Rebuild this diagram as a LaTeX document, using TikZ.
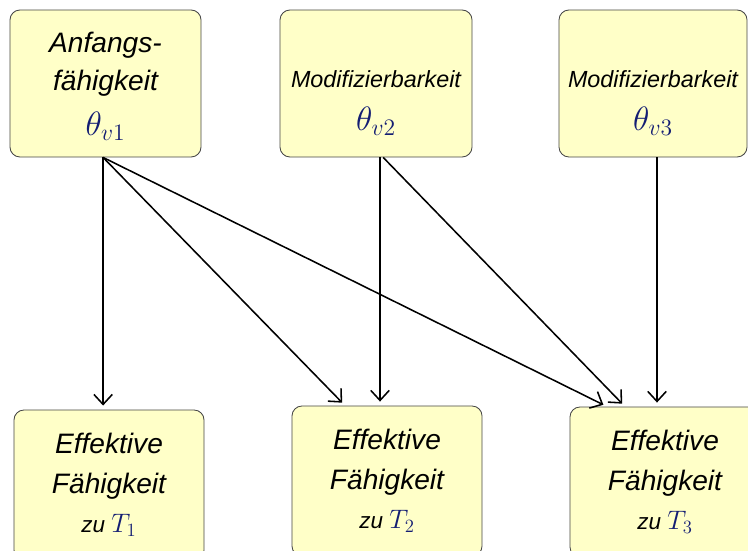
\RequirePackage{fix-cm}
\documentclass[tikz,border=0pt]{standalone}
\usepackage[no-math]{fontspec}
\setmainfont{Liberation Sans}
\usepackage{xcolor}
\usetikzlibrary{positioning,calc,arrows.meta}
\definecolor{BoxGelb}{RGB}{255,255,200}
\definecolor{BoxRand}{RGB}{70,70,70}
\definecolor{MathBlau}{RGB}{20,30,115}
\newcommand{\mblau}[1]{\textcolor{MathBlau}{$#1$}}
\tikzset{
    varbox/.style={rectangle, rounded corners=0.25cm, draw=BoxRand, fill=BoxGelb, line width=0.6pt, minimum width=4.775cm, minimum height=3.675cm, inner sep=0pt, align=center, font=\itshape\fontsize{20}{27}\selectfont},
    modbox/.style={varbox, font=\itshape\fontsize{16.6}{20}\selectfont},
    effbox/.style={varbox, minimum width=4.75cm, minimum height=3.75cm, font=\itshape\fontsize{20}{28}\selectfont}
}

\begin{document}
\begin{tikzpicture}[
        x=0.025cm, y=-0.025cm,
        % Style fuer die Pfeile
        pfeil/.style={
            draw=black,
            line width=1.1pt,
            -{Straight Barb[length=2.5mm, width=4.6mm]},
            shorten >=0.1cm
        }
    ]
        \useasboundingbox (0,0) rectangle (748,551);
        \clip (0,0) rectangle (748,551);

        % --- OBERE KNOTEN ---
        \node[varbox] (a1) at (105.5,83.5) {\rule{0pt}{18pt}Anfangs-\\ fähigkeit\\[5pt]
            {\fontsize{24}{28}\selectfont\mblau{\theta_{v1}}}};
        \node[modbox, minimum width=4.8cm] (a2) at (376,83.5) {\rule{0pt}{40pt}Modifizierbarkeit\\[11pt]
            {\fontsize{24}{28}\selectfont\mblau{\theta_{v2}}}};
        \node[modbox, minimum width=4.7cm] (a3) at (653,83.5) {\rule{0pt}{40pt}Modifizierbarkeit\\[11pt]
            {\fontsize{24}{28}\selectfont\mblau{\theta_{v3}}}};

        % --- UNTERE KNOTEN ---
        \node[effbox] (e1) at (109,485) {Effektive\\ Fähigkeit\\
            {\fontsize{16}{20}\selectfont zu \fontsize{19}{20}\selectfont\mblau{T_1}}};
        \node[effbox] (e2) at (387,481) {Effektive\\ Fähigkeit\\
            {\fontsize{16}{20}\selectfont zu \fontsize{19}{20}\selectfont\mblau{T_2}}};
        \node[effbox] (e3) at (665,482) {Effektive\\ Fähigkeit\\
            {\fontsize{16}{20}\selectfont zu \fontsize{19}{20}\selectfont\mblau{T_3}}};

        % --- PFEILE ---
        \coordinate (s1) at ([xshift=-0.06cm]a1.south);
        \coordinate (s2) at ([xshift=0.1cm]a2.south);
        \coordinate (s3) at ([xshift=0.1cm]a3.south);

        \draw[pfeil] (s1) -- (s1 |- e1.north);
        \draw[pfeil] (s1) -- ([xshift=-1.05cm]e2.north);
        \draw[pfeil] (s1) -- ([xshift=-1.45cm]e3.north);
        \draw[pfeil] (s2) -- (s2 |- e2.north);
        \draw[pfeil] ([xshift=0.08cm]s2) -- ([xshift=-1.0cm]e3.north);
        \draw[pfeil] (s3) -- (s3 |- e3.north);

    \end{tikzpicture}
\end{document}
